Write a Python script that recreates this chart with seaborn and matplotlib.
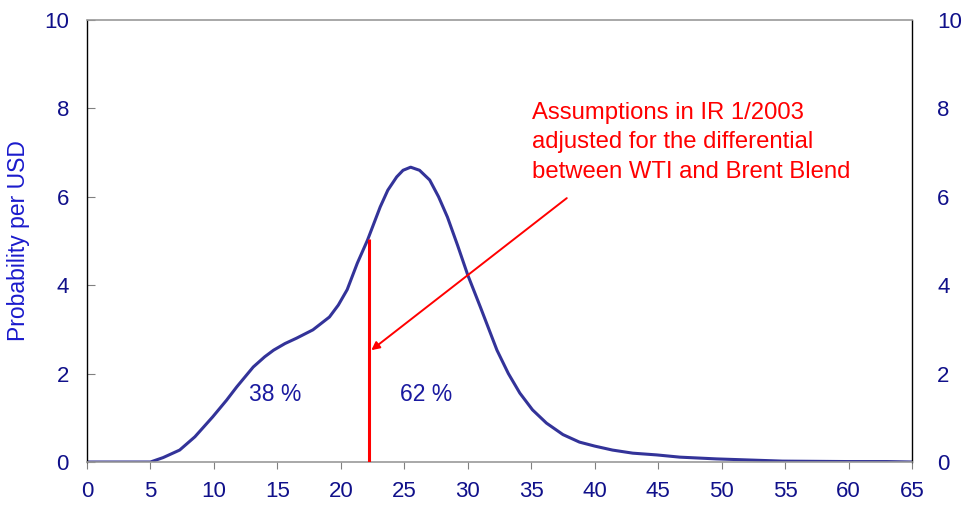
import matplotlib
matplotlib.use("Agg")
import matplotlib.pyplot as plt
import seaborn as sns
import pandas as pd

# Data
price = [0, 5, 6, 7.3, 8.5, 9.9, 11, 11.8, 13.1, 14.0, 14.7, 15.6, 16.5, 17.8, 19.1, 19.8, 20.5, 21.3,
         22.1, 23.1, 23.7, 24.4, 24.9, 25.5, 26.2, 27.0, 27.7, 28.4, 29.2, 30.0, 31.0,
         32.3, 33.2, 34.1, 35.1, 36.2, 37.5, 38.8, 40.0, 41.4, 43.0, 44.9, 46.7, 49.6,
         54.8, 60, 63, 65]
density = [0, 0, 0.1, 0.27, 0.57, 1.02, 1.4, 1.7, 2.15, 2.38, 2.53, 2.68, 2.8, 2.99, 3.28, 3.55, 3.9, 4.5,
           5.02, 5.77, 6.15, 6.45, 6.6, 6.67, 6.6, 6.38, 6.0, 5.54, 4.9, 4.23, 3.5,
           2.53, 2.0, 1.56, 1.18, 0.88, 0.62, 0.45, 0.36, 0.27, 0.2, 0.16, 0.11, 0.07,
           0.02, 0.01, 0.01, 0]
assumption_price = 22.2
assumption_density = 5.05
left_share = "38 %"
right_share = "62 %"
annotation_text = "Assumptions in IR 1/2003\nadjusted for the differential\nbetween WTI and Brent Blend"
x_ticks = list(range(0, 70, 5))
y_ticks = list(range(0, 12, 2))

sns.set_style("white")
plt.rcParams['font.family'] = ['Liberation Sans', 'DejaVu Sans']

navy = "#10108a"
fig = plt.figure(figsize=(9.63, 5.09), dpi=100)
ax = fig.add_axes([87/963, 47/509, 825/963, 442/509])

df = pd.DataFrame({"price": price, "density": density})
sns.lineplot(data=df, x="price", y="density", ax=ax, color="#333399", linewidth=2.2)

ax.vlines(assumption_price, 0, assumption_density, color="#ff0000", linewidth=2.2, zorder=3)
ax.annotate("", xy=(22.4, 2.53), xytext=(37.8, 5.97),
            arrowprops=dict(arrowstyle="-|>", color="#ff0000", lw=1.4,
                            mutation_scale=12, shrinkA=0, shrinkB=0))
ax.text(35.07, 8.15, annotation_text, color="#ff0000", fontsize=17.2,
        ha="left", va="top", linespacing=1.45)
ax.text(14.8, 1.52, left_share, color="#1a1aa0", fontsize=16.5, ha="center", va="center")
ax.text(26.7, 1.52, right_share, color="#1a1aa0", fontsize=16.5, ha="center", va="center")

ax.set_xlim(0, 65)
ax.set_ylim(0, 10)
ax.set_xticks(x_ticks)
ax.set_yticks(y_ticks)
ax.set_xlabel("")
ax.set_ylabel("Probability per USD", color="#1a1acc", fontsize=16.5, labelpad=10)
ax.tick_params(axis="x", direction="out", length=5, color="#808080", pad=9,
               labelsize=16, labelcolor=navy, bottom=True)
ax.tick_params(axis="y", direction="in", length=6, color="#808080", pad=13,
               labelsize=16, labelcolor=navy, left=True)
for s in ["left", "right"]:
    ax.spines[s].set_color("black")
    ax.spines[s].set_linewidth(1.0)
for s in ["top", "bottom"]:
    ax.spines[s].set_color("#999999")
    ax.spines[s].set_linewidth(1.2)

ax2 = ax.twinx()
ax2.set_ylim(0, 10)
ax2.set_yticks(y_ticks)
ax2.tick_params(axis="y", length=0, pad=18, labelsize=16, labelcolor=navy, right=True)
for s in ax2.spines.values():
    s.set_visible(False)

fig.savefig("out.png", dpi=100)
